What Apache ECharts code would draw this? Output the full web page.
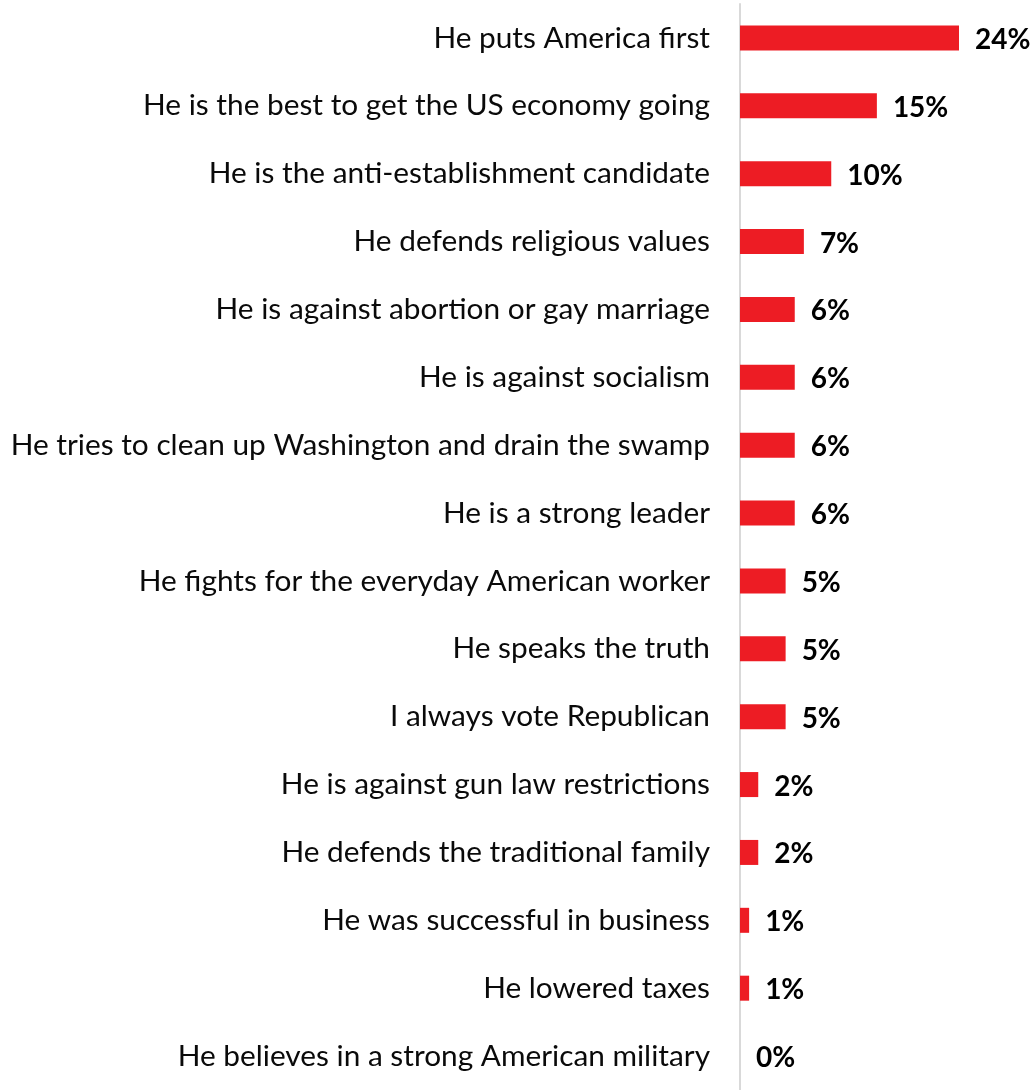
<!DOCTYPE html>
<html><head><meta charset="utf-8">
<script src="https://cdn.jsdelivr.net/npm/echarts@6/dist/echarts.min.js"></script>
<style>html,body{margin:0;padding:0;background:#fff}#c{width:1032px;height:1090px}</style>
</head><body><div id="c"></div>
<script>
const categories = [
  "He puts America first",
  "He is the best to get the US economy going",
  "He is the anti-establishment candidate",
  "He defends religious values",
  "He is against abortion or gay marriage",
  "He is against socialism",
  "He tries to clean up Washington and drain the swamp",
  "He is a strong leader",
  "He fights for the everyday American worker",
  "He speaks the truth",
  "I always vote Republican",
  "He is against gun law restrictions",
  "He defends the traditional family",
  "He was successful in business",
  "He lowered taxes",
  "He believes in a strong American military"
];
const values = [24, 15, 10, 7, 6, 6, 6, 6, 5, 5, 5, 2, 2, 1, 1, 0];

const chart = echarts.init(document.getElementById('c'));
chart.setOption({
  animation: false,
  grid: { left: 740, top: 4, width: 292, height: 1090, containLabel: false },
  xAxis: { type: 'value', min: 0, max: 32, show: false },
  yAxis: {
    type: 'category', data: categories, inverse: true,
    axisLine: { show: true, lineStyle: { color: '#d9d9d9', width: 2 } },
    axisTick: { show: false },
    axisLabel: { margin: 30, fontFamily: 'Lato', fontSize: 29.8, color: '#0a0a0a', padding: [4, 0, 0, 0] }
  },
  series: [{
    type: 'bar', data: values, barWidth: 25,
    itemStyle: { color: '#ED1C24' },
    label: { show: true, position: 'right', distance: 16, formatter: '{c}%', offset: [0, 2],
      fontFamily: 'Lato', fontWeight: 'bold', fontSize: 28, color: '#000' }
  }]
});
</script></body></html>
